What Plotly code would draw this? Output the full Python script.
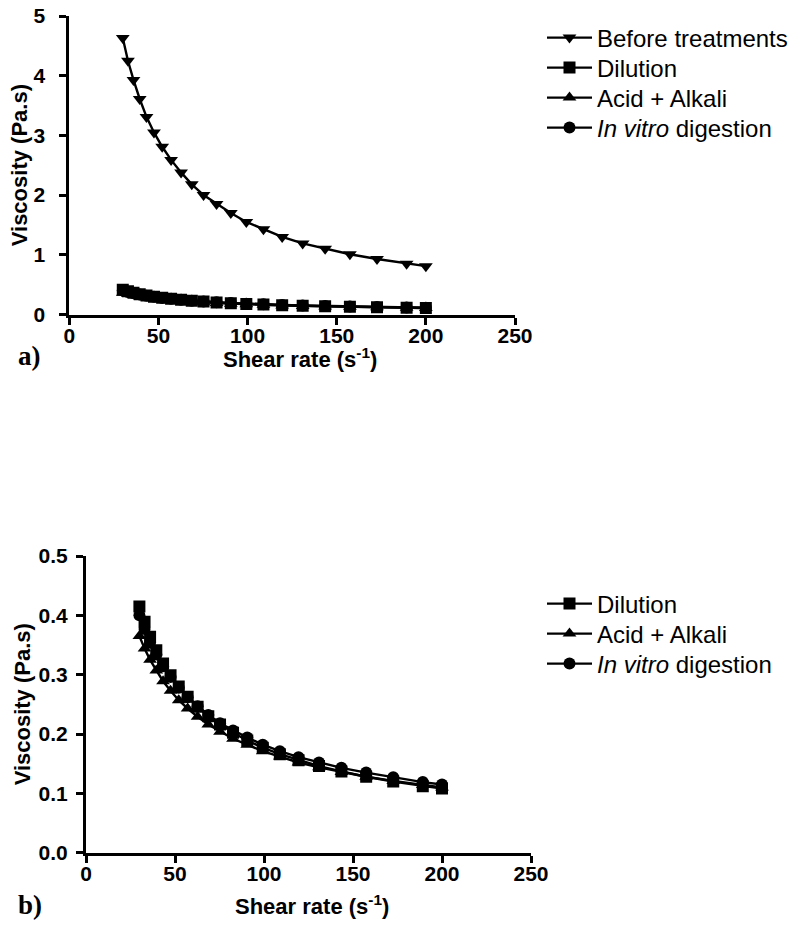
import plotly.graph_objects as go

# Shear rates (s^-1) of the logarithmic sweep
shear_rate = [30.0, 32.9, 36.0, 39.5, 43.3, 47.5, 52.1, 57.1, 62.7, 68.7, 75.3,
              82.6, 90.6, 99.3, 108.9, 119.4, 130.9, 143.5, 157.4, 172.6, 189.2, 200.0]

# Apparent viscosity (Pa.s)
before_treatments = [4.63, 4.25, 3.93, 3.61, 3.31, 3.05, 2.81, 2.59, 2.38, 2.18, 2.00,
                     1.85, 1.70, 1.55, 1.43, 1.30, 1.19, 1.10, 1.01, 0.93, 0.85, 0.81]
dilution = [0.415, 0.389, 0.364, 0.341, 0.319, 0.299, 0.280, 0.263, 0.246, 0.230, 0.216,
            0.202, 0.189, 0.177, 0.166, 0.156, 0.146, 0.137, 0.128, 0.120, 0.112, 0.108]
acid_alkali = [0.365, 0.344, 0.325, 0.307, 0.289, 0.273, 0.257, 0.243, 0.229, 0.216, 0.204,
               0.192, 0.182, 0.171, 0.162, 0.152, 0.144, 0.136, 0.128, 0.121, 0.114, 0.110]
in_vitro = [0.400, 0.377, 0.354, 0.334, 0.314, 0.296, 0.278, 0.262, 0.247, 0.232, 0.218,
            0.206, 0.194, 0.182, 0.171, 0.161, 0.152, 0.143, 0.135, 0.127, 0.119, 0.115]

x_ticks = [0, 50, 100, 150, 200, 250]
y_ticks_a = [0, 1, 2, 3, 4, 5]
y_ticks_b = [0.0, 0.1, 0.2, 0.3, 0.4, 0.5]

X_TITLE = "Shear rate (s<sup>-1</sup>)"
Y_TITLE = "Viscosity (Pa.s)"

W, H = 794, 934
FONT = "Liberation Sans"

series = [
    ("Before treatments", before_treatments, "triangle-down"),
    ("Dilution", dilution, "square"),
    ("Acid + Alkali", acid_alkali, "triangle-up"),
    ("<i>In vitro</i> digestion", in_vitro, "circle"),
]

# Plot-area edges in pixels
A_LEFT, A_RIGHT, A_TOP, A_BOTTOM = 69.3, 515.0, 16.0, 314.5
B_LEFT, B_RIGHT, B_TOP, B_BOTTOM = 86.0, 531.0, 556.0, 852.7

# Legend rows (pixel centre of each entry), one small legend per entry
LEGEND_X = 542
ROWS_A = [38, 68, 98, 128]
ROWS_B = [604, 634, 664]

fig = go.Figure()
legend_layout = {}
n_leg = 0

def legend_box(ypx):
    return dict(x=LEGEND_X / W, y=1 - ypx / H, xanchor="left", yanchor="middle",
                font=dict(family=FONT, size=24, color="black"),
                bgcolor="rgba(0,0,0,0)", itemwidth=45, tracegroupgap=0)

for (name, vals, sym), row in zip(series, ROWS_A):
    n_leg += 1
    key = "legend" if n_leg == 1 else f"legend{n_leg}"
    legend_layout[key] = legend_box(row)
    fig.add_trace(go.Scatter(
        x=shear_rate, y=vals, name=name, mode="lines+markers",
        line=dict(color="black", width=2.4),
        marker=dict(symbol=sym, size=12, color="black"),
        xaxis="x", yaxis="y", legend=key,
    ))

for (name, vals, sym), row in zip(series[1:], ROWS_B):
    n_leg += 1
    key = f"legend{n_leg}"
    legend_layout[key] = legend_box(row)
    fig.add_trace(go.Scatter(
        x=shear_rate, y=vals, name=name, mode="lines+markers",
        line=dict(color="black", width=2.4),
        marker=dict(symbol=sym, size=12, color="black"),
        xaxis="x2", yaxis="y2", legend=key,
    ))

axis_common = dict(
    showline=True, linecolor="black", linewidth=3,
    ticks="outside", ticklen=7, tickwidth=2.5, tickcolor="black",
    showgrid=False, zeroline=False, automargin=False,
    tickfont=dict(family=FONT, size=21, color="black", weight="bold"),
)

fig.update_layout(
    width=W, height=H,
    margin=dict(l=0, r=0, t=0, b=0, autoexpand=False),
    paper_bgcolor="white", plot_bgcolor="white",
    xaxis=dict(domain=[A_LEFT / W, A_RIGHT / W], anchor="y", range=[0, 250],
               tickvals=x_ticks, ticklabelstandoff=-7, **axis_common),
    yaxis=dict(domain=[1 - A_BOTTOM / H, 1 - A_TOP / H], anchor="x", range=[0, 5],
               tickvals=y_ticks_a, ticklabelstandoff=10, **axis_common),
    xaxis2=dict(domain=[B_LEFT / W, B_RIGHT / W], anchor="y2", range=[0, 250],
                tickvals=x_ticks, ticklabelstandoff=-7, **axis_common),
    yaxis2=dict(domain=[1 - B_BOTTOM / H, 1 - B_TOP / H], anchor="x2", range=[0, 0.5],
                tickvals=y_ticks_b, tickformat=".1f", ticklabelstandoff=4, **axis_common),
    showlegend=True,
    **legend_layout,
)

title_font = dict(family=FONT, size=22, color="black", weight="bold")

# Axis titles
for text, xpx, ypx, angle in (
    (X_TITLE, 300, 358, 0),
    (Y_TITLE, 19, (A_TOP + A_BOTTOM) / 2, -90),
    (X_TITLE, 312, 905, 0),
    (Y_TITLE, 22, (B_TOP + B_BOTTOM) / 2, -90),
):
    fig.add_annotation(
        text=text, xref="paper", yref="paper", x=xpx / W, y=1 - ypx / H,
        xanchor="center", yanchor="middle", textangle=angle,
        showarrow=False, font=title_font,
    )

# Panel letters
for label, ypx in (("a)", 356), ("b)", 905)):
    fig.add_annotation(
        text=label, xref="paper", yref="paper",
        x=16 / W, y=1 - ypx / H, xanchor="left", yanchor="middle",
        showarrow=False,
        font=dict(family="Liberation Serif", size=27, color="black", weight="bold"),
    )

fig.write_html("out.html")
